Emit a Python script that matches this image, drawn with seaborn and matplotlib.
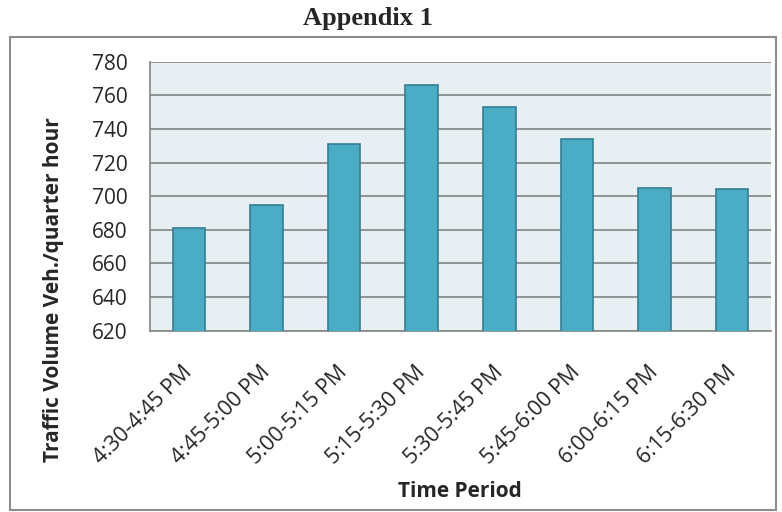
import matplotlib
matplotlib.use("Agg")
import matplotlib.pyplot as plt
import matplotlib.transforms as mtransforms
import seaborn as sns
import pandas as pd
from matplotlib.patches import Rectangle

periods = ["4:30-4:45 PM", "4:45-5:00 PM", "5:00-5:15 PM", "5:15-5:30 PM",
           "5:30-5:45 PM", "5:45-6:00 PM", "6:00-6:15 PM", "6:15-6:30 PM"]
volumes = [681, 695, 731, 766, 753, 734, 705, 704]
y_ticks = [620, 640, 660, 680, 700, 720, 740, 760, 780]

df = pd.DataFrame({"Time Period": periods, "Volume": volumes})

sns.set_style("white")
plt.rcParams["font.family"] = ["Open Sans", "DejaVu Sans"]

fig = plt.figure(figsize=(7.82, 5.12), dpi=100)
ax = fig.add_axes([150 / 782, 1 - 330.7 / 512, (771 - 150) / 782, (330.7 - 61.7) / 512])

sns.barplot(data=df, x="Time Period", y="Volume", color="#4BACC6", width=0.42,
            edgecolor="#357F93", linewidth=1.2, saturation=1, ax=ax, zorder=3)

ax.set_facecolor("#E8EFF3")
ax.set_ylim(620, 780)
ax.set_yticks(y_ticks)
ax.yaxis.grid(True, color="#8C8C8C", linewidth=1.3, zorder=0)
ax.set_axisbelow(True)
for side in ["top", "right"]:
    ax.spines[side].set_visible(False)
ax.spines["left"].set_color("#8C8C8C")
ax.spines["left"].set_linewidth(1.3)
ax.spines["bottom"].set_color("#8C8C8C")
ax.spines["bottom"].set_linewidth(1.3)
ax.tick_params(axis="y", length=8, width=1.3, color="#8C8C8C", labelsize=15, pad=8)
ax.tick_params(axis="x", length=0, labelsize=15.5, pad=18)

# nudge the rotated labels a bit left/down like the original
shift = mtransforms.ScaledTranslation(-7 / 100, -6 / 100, fig.dpi_scale_trans)
for lab in ax.get_xticklabels():
    lab.set_rotation(45)
    lab.set_ha("right")
    lab.set_rotation_mode("anchor")
    lab.set_transform(lab.get_transform() + shift)

ax.set_xlabel("Time Period", fontsize=15, fontweight="bold")
ax.xaxis.set_label_coords(0.499, (330.7 - 481) / 269)
ax.set_ylabel("Traffic Volume Veh./quarter hour", fontsize=15, fontweight="bold")
ax.yaxis.set_label_coords((64 - 150) / 621, (330.7 - 290) / 269)

fig.text(368 / 782, 1 - 19 / 512, "Appendix 1", ha="center", va="center",
         fontsize=19, fontweight="bold", family=["Liberation Serif", "DejaVu Serif"])

fig.patches.append(Rectangle((10 / 782, 2 / 512), 766 / 782, (510 - 37) / 512,
                             transform=fig.transFigure, fill=False,
                             edgecolor="#8C8C8C", linewidth=1.5))

fig.savefig("out.png", dpi=100)
